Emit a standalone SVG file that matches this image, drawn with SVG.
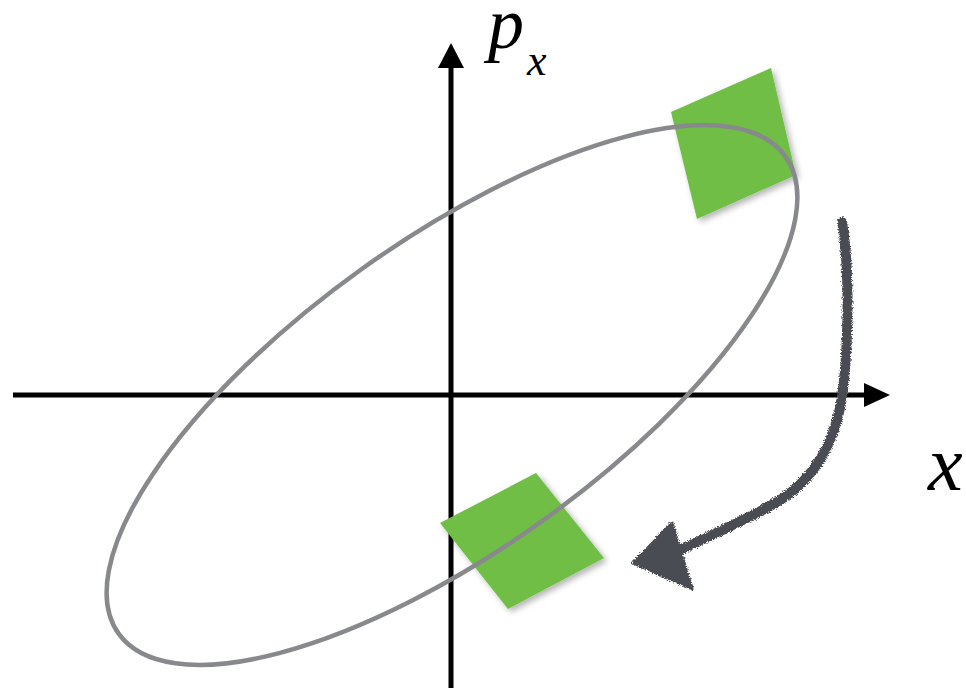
<svg xmlns="http://www.w3.org/2000/svg" width="966" height="688" viewBox="0 0 966 688">
<style>
.axis{stroke:#000;stroke-width:5;fill:none}
.head{fill:#000}
.orbit{fill:none;stroke:#88898d;stroke-width:4.5}
.cell{fill:#6fbe44}
.brush{fill:none;stroke:#4a4d52;stroke-width:10;stroke-linecap:round;stroke-linejoin:round}
.lbl{font-family:"Liberation Serif","Times New Roman",serif;font-style:italic;fill:#000}
</style>
<defs>
<filter id="shadow" x="-20%" y="-20%" width="140%" height="140%">
<feDropShadow dx="3" dy="3" stdDeviation="3" flood-color="#000" flood-opacity="0.3"/>
</filter>
<filter id="rough" x="-10%" y="-10%" width="120%" height="120%">
<feTurbulence type="fractalNoise" baseFrequency="1.2" numOctaves="2" seed="5" result="n"/>
<feDisplacementMap in="SourceGraphic" in2="n" scale="5" xChannelSelector="R" yChannelSelector="G"/>
</filter>
</defs>
<rect width="966" height="688" fill="#fff"/>
<g id="axes">
<line class="axis" x1="13" y1="395" x2="866" y2="395"/>
<polygon class="head" points="864,383 890,395 864,407"/>
<line class="axis" x1="451" y1="688" x2="451" y2="66"/>
<polygon class="head" points="438,68 451,43 464,68"/>
</g>
<g id="cells" filter="url(#shadow)">
<polygon id="cell-top" class="cell" points="671,112 771,68 796,175 697,219"/>
<polygon id="cell-bottom" class="cell" points="440,523 536,473 604,558 508,609"/>
</g>
<g id="orbit">
<ellipse class="orbit" cx="452" cy="395" rx="410" ry="155" transform="rotate(-35.6 452 395)"/>
</g>
<g id="connectors" filter="url(#rough)">
<path class="brush" d="M842,222 C849,262 849,330 844,380 C839,440 815,482 770,506 C735,525 705,538 676,552"/>
<polygon points="633,563 672,523 692,589" fill="#4a4d52" stroke="#4a4d52" stroke-width="3" stroke-linejoin="round"/>
</g>
<g id="labels">
<text class="lbl" x="488" y="48" font-size="72">p</text>
<text class="lbl" x="527" y="75" font-size="44">x</text>
<text class="lbl" x="928" y="490" font-size="78">x</text>
</g>
</svg>
